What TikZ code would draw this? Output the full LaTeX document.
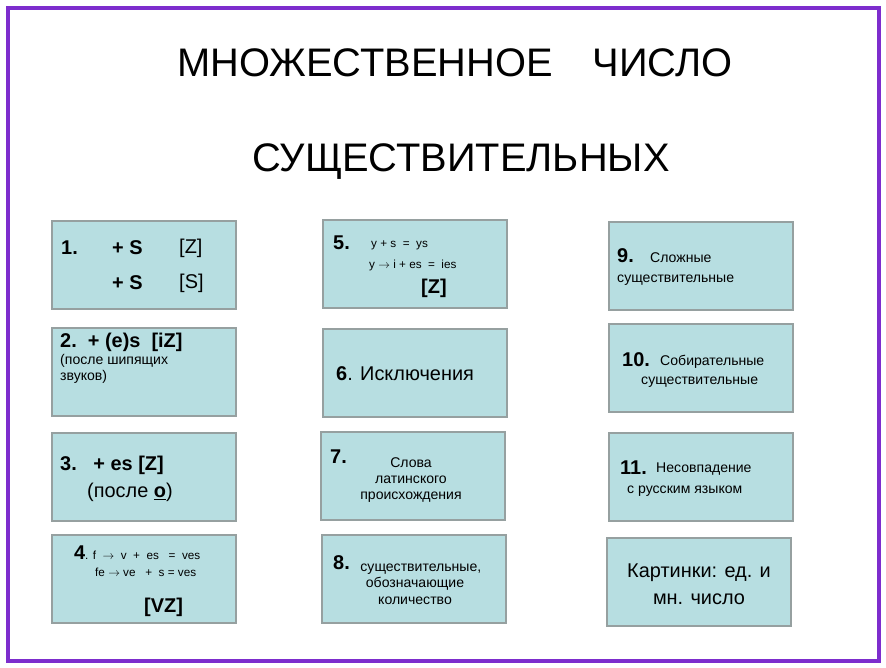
\documentclass[tikz,border=0pt]{standalone}
\usepackage{fontspec}
\setmainfont{Liberation Sans}
\definecolor{cardfill}{RGB}{183,222,225}
\definecolor{cardline}{RGB}{150,160,160}
\definecolor{framepurple}{RGB}{125,45,205}
\tikzset{
  card/.style={draw=cardline, line width=1.5pt, fill=cardfill},
  big/.style={font=\fontsize{17}{19}\selectfont, anchor=west, inner sep=0pt},
  small/.style={font=\fontsize{12}{14}\selectfont, inner sep=0pt},
  tiny/.style={font=\fontsize{10}{12}\selectfont, inner sep=0pt}
}
\begin{document}
\begin{tikzpicture}[x=0.03cm,y=-0.03cm]
\useasboundingbox (0,0) rectangle (886,668);
\fill[white] (0,0) rectangle (886,668);
\draw[framepurple, line width=3pt] (8,8) rectangle (879,661);
% title
\node[font=\fontsize{34}{38}\selectfont] (t1) at (455,63) {МНОЖЕСТВЕННОЕ\quad ЧИСЛО};
\node[font=\fontsize{34}{38}\selectfont] (t2) at (461,162) {СУЩЕСТВИТЕЛЬНЫХ};
% cards
\draw[card] (52,221) rectangle (236,309);
\draw[card] (52,328) rectangle (236,416);
\draw[card] (52,433) rectangle (236,521);
\draw[card] (52,535) rectangle (236,623);
\draw[card] (323,220) rectangle (507,308);
\draw[card] (323,329) rectangle (507,417);
\draw[card] (321,432) rectangle (505,520);
\draw[card] (322,535) rectangle (506,623);
\draw[card] (609,222) rectangle (793,310);
\draw[card] (609,324) rectangle (793,412);
\draw[card] (609,433) rectangle (793,521);
\draw[card] (607,538) rectangle (791,626);
% 1
\node[big] (n1) at (61,248) {\textbf{1.}};
\node[big] (s1) at (112,248) {\textbf{+ S}};
\node[big] (z1) at (179,248) {[Z]};
\node[big] (s2) at (112,283) {\textbf{+ S}};
\node[big] (z2) at (179,283) {[S]};
% 2
\node[big] (n2) at (60,342) {\textbf{2.\ \ + (e)s\ \ [iZ]}};
\node[small, anchor=north west, align=left] (d2) at (60,354) {(после шипящих\\звуков)};
% 3
\node[big] (n3) at (60,465) {\textbf{3.\ \ \ + es [Z]}};
\node[big] (d3) at (87,492) {(после \underline{\textbf{o}})};
% 4
\node[big] (n4) at (74,553) {\textbf{4}};
\node[tiny, anchor=west] (e4a) at (85,555) {. f \ $\rightarrow$\ \ v \ +\ \ es \ \ = \ ves};
\node[tiny, anchor=west] (e4b) at (95,572) {fe $\rightarrow$ ve \ \ + \ s = ves};
\node[big] (v4) at (144,607) {\textbf{[VZ]}};
% 5
\node[big] (n5) at (333,243) {\textbf{5.}};
\node[tiny, anchor=west] (e5a) at (371,245) {y + s \ = \ ys};
\node[tiny, anchor=west] (e5b) at (369,265) {y $\rightarrow$ i + es \ = \ ies};
\node[big] (z5) at (421,288) {\textbf{[Z]}};
% 6
\node[big] (n6) at (336,374) {\textbf{6}. Исключения};
% 7
\node[big] (n7) at (330,457) {\textbf{7.}};
\node[small, align=center] (d7) at (411,480) {Слова\\латинского\\происхождения};
% 8
\node[big] (n8) at (333,563) {\textbf{8.}};
\node[small, align=center] (d8) at (415,584) {\ \ \ существительные,\\обозначающие\\количество};
% 9
\node[big] (n9) at (617,256) {\textbf{9.}};
\node[small, anchor=west] (d9a) at (650,258) {Сложные};
\node[small, anchor=west] (d9b) at (617,280) {существительные};
% 10
\node[big] (n10) at (622,360) {\textbf{10.}};
\node[small, anchor=west] (d10a) at (660,362) {Собирательные};
\node[small, anchor=west] (d10b) at (641,382) {существительные};
% 11
\node[big] (n11) at (620,468) {\textbf{11.}};
\node[small, anchor=west] (d11a) at (656,469) {Несовпадение};
\node[small, anchor=west] (d11b) at (627,491) {с русским языком};
% 12
\node[font=\fontsize{17}{23}\selectfont, align=center] (d12) at (699,584) {Картинки: ед. и\\мн. число};
\end{tikzpicture}
\end{document}
